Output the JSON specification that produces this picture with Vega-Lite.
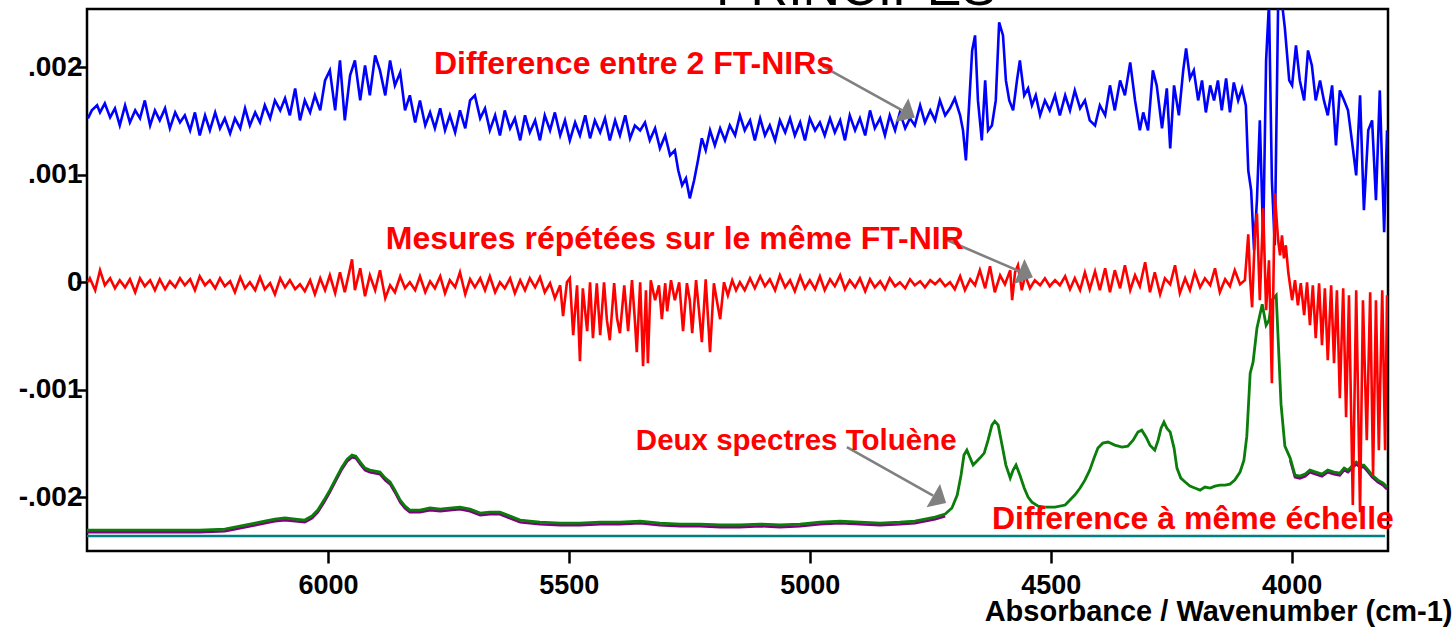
{
"$schema": "https://vega.github.io/schema/vega-lite/v6.json",
"width": 1301, "height": 542,
"autosize": {"type": "none"},
"padding": {"left": 87, "top": 9, "right": 68, "bottom": 77},
"background": "white",
"config": {"view": {"stroke": "black", "strokeWidth": 2.5}, "font": "Liberation Sans"},
"datasets": {
"blue": [{"wn":6498,"v":0.001526},{"wn":6490,"v":0.0016},{"wn":6479,"v":0.001647},{"wn":6473,"v":0.001581},{"wn":6463,"v":0.001665},{"wn":6452,"v":0.001535},{"wn":6442,"v":0.001619},{"wn":6432,"v":0.00146},{"wn":6421,"v":0.001647},{"wn":6411,"v":0.001488},{"wn":6400,"v":0.0016},{"wn":6390,"v":0.001526},{"wn":6380,"v":0.001693},{"wn":6369,"v":0.00146},{"wn":6359,"v":0.0016},{"wn":6349,"v":0.001507},{"wn":6338,"v":0.001619},{"wn":6328,"v":0.001433},{"wn":6317,"v":0.001581},{"wn":6307,"v":0.001488},{"wn":6297,"v":0.001554},{"wn":6286,"v":0.001414},{"wn":6276,"v":0.001581},{"wn":6266,"v":0.001367},{"wn":6255,"v":0.001554},{"wn":6245,"v":0.001414},{"wn":6234,"v":0.001581},{"wn":6224,"v":0.001433},{"wn":6214,"v":0.001526},{"wn":6203,"v":0.001386},{"wn":6193,"v":0.001526},{"wn":6182,"v":0.001433},{"wn":6172,"v":0.001619},{"wn":6162,"v":0.00146},{"wn":6151,"v":0.001581},{"wn":6141,"v":0.001488},{"wn":6131,"v":0.001647},{"wn":6120,"v":0.001526},{"wn":6110,"v":0.001693},{"wn":6099,"v":0.0016},{"wn":6089,"v":0.001712},{"wn":6079,"v":0.001554},{"wn":6068,"v":0.001805},{"wn":6058,"v":0.001507},{"wn":6048,"v":0.001693},{"wn":6037,"v":0.001581},{"wn":6027,"v":0.00174},{"wn":6016,"v":0.0016},{"wn":6006,"v":0.001879},{"wn":5996,"v":0.001972},{"wn":5985,"v":0.0016},{"wn":5975,"v":0.002065},{"wn":5965,"v":0.001507},{"wn":5954,"v":0.001926},{"wn":5944,"v":0.002065},{"wn":5933,"v":0.001693},{"wn":5923,"v":0.002019},{"wn":5913,"v":0.00174},{"wn":5902,"v":0.002112},{"wn":5892,"v":0.001972},{"wn":5881,"v":0.00174},{"wn":5871,"v":0.002065},{"wn":5861,"v":0.001833},{"wn":5850,"v":0.001953},{"wn":5840,"v":0.0016},{"wn":5830,"v":0.00174},{"wn":5819,"v":0.001488},{"wn":5809,"v":0.001693},{"wn":5798,"v":0.00146},{"wn":5788,"v":0.001581},{"wn":5778,"v":0.001433},{"wn":5767,"v":0.001619},{"wn":5757,"v":0.001414},{"wn":5747,"v":0.001554},{"wn":5736,"v":0.001395},{"wn":5726,"v":0.0016},{"wn":5715,"v":0.001433},{"wn":5705,"v":0.001693},{"wn":5695,"v":0.00174},{"wn":5684,"v":0.001526},{"wn":5674,"v":0.001619},{"wn":5664,"v":0.001414},{"wn":5653,"v":0.001554},{"wn":5643,"v":0.001367},{"wn":5633,"v":0.0016},{"wn":5622,"v":0.001433},{"wn":5612,"v":0.001526},{"wn":5601,"v":0.001321},{"wn":5591,"v":0.001554},{"wn":5581,"v":0.001395},{"wn":5570,"v":0.001507},{"wn":5560,"v":0.001321},{"wn":5550,"v":0.001554},{"wn":5539,"v":0.001414},{"wn":5529,"v":0.001581},{"wn":5518,"v":0.001367},{"wn":5508,"v":0.001507},{"wn":5498,"v":0.001321},{"wn":5487,"v":0.001488},{"wn":5477,"v":0.001367},{"wn":5466,"v":0.001554},{"wn":5456,"v":0.00134},{"wn":5446,"v":0.001507},{"wn":5435,"v":0.001395},{"wn":5425,"v":0.001526},{"wn":5415,"v":0.001321},{"wn":5404,"v":0.001507},{"wn":5394,"v":0.001367},{"wn":5383,"v":0.001554},{"wn":5373,"v":0.00134},{"wn":5363,"v":0.00146},{"wn":5352,"v":0.001414},{"wn":5342,"v":0.001488},{"wn":5332,"v":0.001321},{"wn":5321,"v":0.001433},{"wn":5311,"v":0.001247},{"wn":5300,"v":0.001367},{"wn":5290,"v":0.001181},{"wn":5280,"v":0.001228},{"wn":5273,"v":0.001042},{"wn":5265,"v":0.000902},{"wn":5257,"v":0.000967},{"wn":5249,"v":0.000781},{"wn":5240,"v":0.000949},{"wn":5232,"v":0.001135},{"wn":5224,"v":0.00134},{"wn":5216,"v":0.001228},{"wn":5207,"v":0.001414},{"wn":5197,"v":0.001274},{"wn":5186,"v":0.001433},{"wn":5176,"v":0.001321},{"wn":5166,"v":0.00146},{"wn":5155,"v":0.001367},{"wn":5145,"v":0.001554},{"wn":5135,"v":0.001414},{"wn":5124,"v":0.001507},{"wn":5114,"v":0.001321},{"wn":5103,"v":0.001526},{"wn":5093,"v":0.001367},{"wn":5083,"v":0.00146},{"wn":5072,"v":0.001321},{"wn":5062,"v":0.001507},{"wn":5051,"v":0.001395},{"wn":5041,"v":0.001526},{"wn":5031,"v":0.001367},{"wn":5020,"v":0.001488},{"wn":5010,"v":0.001321},{"wn":5000,"v":0.001526},{"wn":4989,"v":0.001414},{"wn":4979,"v":0.001488},{"wn":4969,"v":0.001367},{"wn":4958,"v":0.001526},{"wn":4948,"v":0.001395},{"wn":4937,"v":0.001507},{"wn":4927,"v":0.001321},{"wn":4917,"v":0.001554},{"wn":4906,"v":0.001414},{"wn":4896,"v":0.001526},{"wn":4885,"v":0.001367},{"wn":4875,"v":0.0016},{"wn":4865,"v":0.001433},{"wn":4854,"v":0.001526},{"wn":4844,"v":0.001367},{"wn":4834,"v":0.001554},{"wn":4823,"v":0.001414},{"wn":4813,"v":0.001581},{"wn":4802,"v":0.001433},{"wn":4792,"v":0.001526},{"wn":4782,"v":0.00146},{"wn":4771,"v":0.001647},{"wn":4761,"v":0.001488},{"wn":4750,"v":0.0016},{"wn":4740,"v":0.001507},{"wn":4730,"v":0.001693},{"wn":4719,"v":0.001554},{"wn":4709,"v":0.001619},{"wn":4699,"v":0.001712},{"wn":4688,"v":0.001554},{"wn":4682,"v":0.001414},{"wn":4676,"v":0.001135},{"wn":4670,"v":0.0016},{"wn":4663,"v":0.002158},{"wn":4657,"v":0.002298},{"wn":4651,"v":0.001693},{"wn":4643,"v":0.001321},{"wn":4636,"v":0.001879},{"wn":4630,"v":0.001414},{"wn":4622,"v":0.00146},{"wn":4614,"v":0.001693},{"wn":4607,"v":0.002419},{"wn":4599,"v":0.002298},{"wn":4593,"v":0.001879},{"wn":4586,"v":0.001693},{"wn":4578,"v":0.0016},{"wn":4570,"v":0.001879},{"wn":4564,"v":0.002065},{"wn":4555,"v":0.00174},{"wn":4547,"v":0.001805},{"wn":4539,"v":0.001647},{"wn":4531,"v":0.00174},{"wn":4522,"v":0.001554},{"wn":4512,"v":0.001693},{"wn":4502,"v":0.0016},{"wn":4491,"v":0.00174},{"wn":4481,"v":0.001554},{"wn":4470,"v":0.00174},{"wn":4460,"v":0.0016},{"wn":4450,"v":0.001786},{"wn":4439,"v":0.001619},{"wn":4429,"v":0.001693},{"wn":4419,"v":0.001507},{"wn":4408,"v":0.00146},{"wn":4398,"v":0.001647},{"wn":4387,"v":0.001554},{"wn":4377,"v":0.001833},{"wn":4367,"v":0.0016},{"wn":4356,"v":0.001879},{"wn":4346,"v":0.00174},{"wn":4335,"v":0.002047},{"wn":4325,"v":0.001693},{"wn":4315,"v":0.001414},{"wn":4308,"v":0.001581},{"wn":4298,"v":0.001414},{"wn":4288,"v":0.001972},{"wn":4280,"v":0.001833},{"wn":4269,"v":0.001433},{"wn":4259,"v":0.001805},{"wn":4252,"v":0.001247},{"wn":4244,"v":0.001833},{"wn":4234,"v":0.001554},{"wn":4225,"v":0.001972},{"wn":4219,"v":0.002177},{"wn":4211,"v":0.001898},{"wn":4203,"v":0.001972},{"wn":4194,"v":0.001693},{"wn":4186,"v":0.001879},{"wn":4178,"v":0.001581},{"wn":4169,"v":0.001833},{"wn":4161,"v":0.001693},{"wn":4153,"v":0.001879},{"wn":4145,"v":0.0016},{"wn":4136,"v":0.001898},{"wn":4128,"v":0.001581},{"wn":4120,"v":0.00186},{"wn":4111,"v":0.001693},{"wn":4103,"v":0.001805},{"wn":4095,"v":0.001647},{"wn":4090,"v":0.001042},{"wn":4084,"v":0.000856},{"wn":4078,"v":0.000298},{"wn":4072,"v":0.000763},{"wn":4066,"v":0.001507},{"wn":4059,"v":0.000391},{"wn":4053,"v":0.002065},{"wn":4047,"v":0.0026},{"wn":4041,"v":0.000949},{"wn":4035,"v":0.000344},{"wn":4028,"v":0.0026},{"wn":4020,"v":0.0026},{"wn":4014,"v":0.002363},{"wn":4005,"v":0.001879},{"wn":3999,"v":0.001833},{"wn":3991,"v":0.002205},{"wn":3983,"v":0.001879},{"wn":3974,"v":0.001693},{"wn":3966,"v":0.002158},{"wn":3958,"v":0.002019},{"wn":3950,"v":0.001693},{"wn":3941,"v":0.001879},{"wn":3933,"v":0.001693},{"wn":3925,"v":0.001554},{"wn":3916,"v":0.001833},{"wn":3908,"v":0.001274},{"wn":3900,"v":0.001786},{"wn":3891,"v":0.001693},{"wn":3883,"v":0.0016},{"wn":3875,"v":0.001321},{"wn":3866,"v":0.000995},{"wn":3858,"v":0.00174},{"wn":3850,"v":0.00067},{"wn":3841,"v":0.001414},{"wn":3833,"v":0.001507},{"wn":3825,"v":0.000763},{"wn":3817,"v":0.001786},{"wn":3808,"v":0.000465},{"wn":3802,"v":0.001414}],
"red": [{"wn":6498,"v":0},{"wn":6494,"v":0.000037},{"wn":6483,"v":-0.000074},{"wn":6473,"v":0.000112},{"wn":6463,"v":-0.000028},{"wn":6452,"v":0.000037},{"wn":6442,"v":-0.000056},{"wn":6432,"v":0.000019},{"wn":6421,"v":-0.000047},{"wn":6411,"v":0.000028},{"wn":6400,"v":-0.000093},{"wn":6390,"v":0.000037},{"wn":6380,"v":-0.000037},{"wn":6369,"v":0.000019},{"wn":6359,"v":-0.000074},{"wn":6349,"v":0.000028},{"wn":6338,"v":-0.000065},{"wn":6328,"v":0.000009},{"wn":6317,"v":-0.000047},{"wn":6307,"v":0.000037},{"wn":6297,"v":-0.000028},{"wn":6286,"v":0.000028},{"wn":6276,"v":-0.000074},{"wn":6266,"v":0.000056},{"wn":6255,"v":-0.000028},{"wn":6245,"v":0.000019},{"wn":6234,"v":-0.000056},{"wn":6224,"v":0.000037},{"wn":6214,"v":-0.000037},{"wn":6203,"v":0.000009},{"wn":6193,"v":-0.000093},{"wn":6182,"v":0.000047},{"wn":6172,"v":-0.000056},{"wn":6162,"v":0},{"wn":6151,"v":-0.000074},{"wn":6141,"v":0.000047},{"wn":6131,"v":-0.000065},{"wn":6120,"v":-0.000009},{"wn":6110,"v":-0.000112},{"wn":6099,"v":0.000037},{"wn":6089,"v":-0.000047},{"wn":6079,"v":0.000019},{"wn":6068,"v":-0.000065},{"wn":6058,"v":-0.000019},{"wn":6048,"v":-0.000084},{"wn":6037,"v":0.000019},{"wn":6027,"v":-0.000112},{"wn":6016,"v":0.000037},{"wn":6006,"v":-0.000074},{"wn":5996,"v":0.000065},{"wn":5985,"v":-0.000102},{"wn":5975,"v":0.000093},{"wn":5965,"v":-0.000093},{"wn":5954,"v":0.00013},{"wn":5950,"v":0.000214},{"wn":5944,"v":-0.000074},{"wn":5933,"v":0.00013},{"wn":5923,"v":-0.00013},{"wn":5913,"v":0.000065},{"wn":5902,"v":-0.000074},{"wn":5892,"v":0.000112},{"wn":5881,"v":-0.000149},{"wn":5871,"v":-0.000028},{"wn":5861,"v":-0.000093},{"wn":5850,"v":0.000056},{"wn":5840,"v":-0.000056},{"wn":5830,"v":0},{"wn":5819,"v":-0.000074},{"wn":5809,"v":0.000056},{"wn":5798,"v":-0.000093},{"wn":5788,"v":0.000009},{"wn":5778,"v":-0.000056},{"wn":5767,"v":0.000056},{"wn":5757,"v":-0.000102},{"wn":5747,"v":0.000019},{"wn":5736,"v":-0.000047},{"wn":5726,"v":0.000093},{"wn":5715,"v":-0.000112},{"wn":5705,"v":0.000028},{"wn":5695,"v":-0.000047},{"wn":5684,"v":0.000037},{"wn":5674,"v":-0.000074},{"wn":5664,"v":0.000056},{"wn":5653,"v":-0.000093},{"wn":5643,"v":0},{"wn":5633,"v":-0.000056},{"wn":5622,"v":0.000037},{"wn":5612,"v":-0.000102},{"wn":5601,"v":0.000019},{"wn":5591,"v":-0.000074},{"wn":5581,"v":0.000037},{"wn":5570,"v":-0.000047},{"wn":5560,"v":0.000047},{"wn":5550,"v":-0.000093},{"wn":5539,"v":-0.000009},{"wn":5529,"v":-0.000149},{"wn":5518,"v":-0.000028},{"wn":5512,"v":-0.000316},{"wn":5504,"v":0},{"wn":5498,"v":0.000037},{"wn":5491,"v":-0.000493},{"wn":5483,"v":-0.000028},{"wn":5477,"v":-0.000735},{"wn":5471,"v":-0.000056},{"wn":5462,"v":-0.000456},{"wn":5456,"v":0},{"wn":5450,"v":-0.000521},{"wn":5442,"v":-0.000009},{"wn":5435,"v":-0.000493},{"wn":5427,"v":0},{"wn":5421,"v":-0.000353},{"wn":5415,"v":-0.00054},{"wn":5406,"v":-0.000009},{"wn":5400,"v":-0.000335},{"wn":5394,"v":-0.000474},{"wn":5385,"v":-0.000028},{"wn":5377,"v":-0.000456},{"wn":5369,"v":0.000019},{"wn":5363,"v":-0.000353},{"wn":5359,"v":-0.000651},{"wn":5352,"v":0},{"wn":5346,"v":-0.000781},{"wn":5340,"v":-0.000074},{"wn":5336,"v":-0.000753},{"wn":5330,"v":0.000019},{"wn":5321,"v":-0.000167},{"wn":5313,"v":-0.000028},{"wn":5307,"v":-0.000344},{"wn":5300,"v":-0.000009},{"wn":5296,"v":-0.00027},{"wn":5288,"v":0.000019},{"wn":5280,"v":-0.000167},{"wn":5271,"v":0},{"wn":5263,"v":-0.000456},{"wn":5255,"v":-0.000009},{"wn":5249,"v":-0.000167},{"wn":5244,"v":-0.000474},{"wn":5236,"v":0.000019},{"wn":5230,"v":-0.00026},{"wn":5224,"v":-0.000558},{"wn":5216,"v":0.000028},{"wn":5207,"v":-0.000651},{"wn":5199,"v":-0.000009},{"wn":5193,"v":-0.000167},{"wn":5186,"v":-0.000344},{"wn":5178,"v":0},{"wn":5170,"v":-0.000121},{"wn":5161,"v":0.000019},{"wn":5153,"v":-0.000074},{"wn":5145,"v":0},{"wn":5135,"v":-0.000074},{"wn":5124,"v":0.000037},{"wn":5114,"v":-0.000056},{"wn":5103,"v":0.000056},{"wn":5093,"v":-0.000037},{"wn":5083,"v":0.000028},{"wn":5072,"v":-0.000074},{"wn":5062,"v":0.000065},{"wn":5051,"v":-0.000047},{"wn":5041,"v":0.000019},{"wn":5031,"v":-0.000084},{"wn":5020,"v":0.000056},{"wn":5010,"v":-0.000056},{"wn":5000,"v":0.000019},{"wn":4989,"v":-0.000065},{"wn":4979,"v":0.000056},{"wn":4969,"v":-0.000074},{"wn":4958,"v":0.000028},{"wn":4948,"v":-0.000037},{"wn":4937,"v":0.000065},{"wn":4927,"v":-0.000065},{"wn":4917,"v":0.000019},{"wn":4906,"v":-0.000047},{"wn":4896,"v":0.000037},{"wn":4885,"v":-0.000084},{"wn":4875,"v":0.000028},{"wn":4865,"v":-0.000047},{"wn":4854,"v":0.000009},{"wn":4844,"v":-0.000065},{"wn":4834,"v":0.000037},{"wn":4823,"v":-0.000037},{"wn":4813,"v":0},{"wn":4802,"v":-0.000056},{"wn":4792,"v":0.000028},{"wn":4782,"v":-0.000028},{"wn":4771,"v":0.000009},{"wn":4761,"v":-0.000047},{"wn":4750,"v":0.000019},{"wn":4740,"v":-0.000019},{"wn":4730,"v":0.000028},{"wn":4719,"v":-0.000037},{"wn":4709,"v":0},{"wn":4699,"v":-0.000065},{"wn":4688,"v":0.000056},{"wn":4678,"v":-0.000074},{"wn":4667,"v":0.000028},{"wn":4657,"v":-0.000028},{"wn":4647,"v":0.000112},{"wn":4636,"v":-0.000056},{"wn":4626,"v":0.000149},{"wn":4616,"v":-0.000093},{"wn":4605,"v":0.000065},{"wn":4595,"v":-0.000019},{"wn":4584,"v":0.000112},{"wn":4580,"v":-0.000167},{"wn":4574,"v":0.000093},{"wn":4568,"v":0.000158},{"wn":4560,"v":-0.000074},{"wn":4553,"v":0.000065},{"wn":4543,"v":-0.000056},{"wn":4533,"v":0.000019},{"wn":4522,"v":-0.000028},{"wn":4512,"v":0.000037},{"wn":4502,"v":-0.000037},{"wn":4491,"v":0.000019},{"wn":4481,"v":-0.000028},{"wn":4470,"v":0.000056},{"wn":4460,"v":-0.000065},{"wn":4450,"v":0.000037},{"wn":4439,"v":-0.000074},{"wn":4429,"v":0.000093},{"wn":4419,"v":-0.000065},{"wn":4408,"v":0.000102},{"wn":4398,"v":-0.000074},{"wn":4387,"v":0.00013},{"wn":4377,"v":-0.000093},{"wn":4367,"v":0.000112},{"wn":4356,"v":-0.000056},{"wn":4346,"v":0.000158},{"wn":4335,"v":-0.000074},{"wn":4325,"v":0.000065},{"wn":4315,"v":-0.000037},{"wn":4304,"v":0.000186},{"wn":4294,"v":-0.000093},{"wn":4284,"v":0.000093},{"wn":4273,"v":-0.000112},{"wn":4263,"v":0.000037},{"wn":4252,"v":-0.000019},{"wn":4242,"v":0.000158},{"wn":4232,"v":-0.000102},{"wn":4221,"v":0.000037},{"wn":4211,"v":-0.000074},{"wn":4201,"v":0.000093},{"wn":4190,"v":-0.000047},{"wn":4180,"v":0.000037},{"wn":4169,"v":-0.000028},{"wn":4159,"v":0.00013},{"wn":4149,"v":-0.000093},{"wn":4138,"v":0.000028},{"wn":4128,"v":-0.000037},{"wn":4118,"v":0.000112},{"wn":4107,"v":-0.000019},{"wn":4097,"v":0.000019},{"wn":4090,"v":0.000447},{"wn":4086,"v":0.000019},{"wn":4082,"v":-0.000233},{"wn":4076,"v":0.000484},{"wn":4072,"v":0.000642},{"wn":4066,"v":-0.000167},{"wn":4059,"v":0.000688},{"wn":4053,"v":-0.00026},{"wn":4047,"v":0.000205},{"wn":4041,"v":-0.00094},{"wn":4035,"v":0.000828},{"wn":4028,"v":0.000391},{"wn":4024,"v":0.000251},{"wn":4020,"v":0.000437},{"wn":4016,"v":0.000223},{"wn":4012,"v":0.000344},{"wn":4007,"v":0.000093},{"wn":3999,"v":-0.000167},{"wn":3993,"v":0.000019},{"wn":3987,"v":-0.000214},{"wn":3981,"v":-0.000009},{"wn":3974,"v":-0.000307},{"wn":3968,"v":0},{"wn":3962,"v":-0.0004},{"wn":3956,"v":-0.000028},{"wn":3950,"v":-0.000521},{"wn":3943,"v":-0.000009},{"wn":3937,"v":-0.000586},{"wn":3931,"v":-0.000056},{"wn":3925,"v":-0.000726},{"wn":3918,"v":-0.000028},{"wn":3912,"v":-0.000753},{"wn":3906,"v":-0.000074},{"wn":3900,"v":-0.001079},{"wn":3893,"v":-0.000056},{"wn":3887,"v":-0.001256},{"wn":3881,"v":-0.000121},{"wn":3873,"v":-0.002074},{"wn":3866,"v":-0.000074},{"wn":3858,"v":-0.00214},{"wn":3852,"v":-0.000167},{"wn":3844,"v":-0.00147},{"wn":3837,"v":-0.000093},{"wn":3831,"v":-0.001795},{"wn":3825,"v":-0.000167},{"wn":3819,"v":-0.001563},{"wn":3812,"v":-0.000074},{"wn":3806,"v":-0.001563},{"wn":3802,"v":-0.000121}],
"green": [{"wn":6500,"v":-0.002307},{"wn":6369,"v":-0.002307},{"wn":6266,"v":-0.002307},{"wn":6214,"v":-0.002298},{"wn":6193,"v":-0.002279},{"wn":6172,"v":-0.00226},{"wn":6151,"v":-0.002242},{"wn":6131,"v":-0.002223},{"wn":6110,"v":-0.002205},{"wn":6089,"v":-0.002195},{"wn":6068,"v":-0.002205},{"wn":6048,"v":-0.002214},{"wn":6033,"v":-0.002177},{"wn":6021,"v":-0.002121},{"wn":6008,"v":-0.002028},{"wn":5996,"v":-0.001935},{"wn":5983,"v":-0.001823},{"wn":5971,"v":-0.001721},{"wn":5960,"v":-0.001647},{"wn":5950,"v":-0.001609},{"wn":5942,"v":-0.001619},{"wn":5933,"v":-0.001674},{"wn":5923,"v":-0.00173},{"wn":5913,"v":-0.001749},{"wn":5902,"v":-0.001758},{"wn":5892,"v":-0.001767},{"wn":5881,"v":-0.001823},{"wn":5871,"v":-0.00186},{"wn":5861,"v":-0.001935},{"wn":5850,"v":-0.002028},{"wn":5840,"v":-0.002084},{"wn":5830,"v":-0.002121},{"wn":5809,"v":-0.002121},{"wn":5788,"v":-0.002102},{"wn":5767,"v":-0.002112},{"wn":5747,"v":-0.002102},{"wn":5726,"v":-0.002093},{"wn":5705,"v":-0.002112},{"wn":5684,"v":-0.002149},{"wn":5664,"v":-0.00214},{"wn":5643,"v":-0.00214},{"wn":5622,"v":-0.002177},{"wn":5601,"v":-0.002214},{"wn":5581,"v":-0.002223},{"wn":5560,"v":-0.002233},{"wn":5518,"v":-0.002242},{"wn":5477,"v":-0.002242},{"wn":5435,"v":-0.002233},{"wn":5394,"v":-0.002233},{"wn":5352,"v":-0.002223},{"wn":5311,"v":-0.002242},{"wn":5269,"v":-0.002251},{"wn":5228,"v":-0.002251},{"wn":5186,"v":-0.00226},{"wn":5145,"v":-0.00226},{"wn":5103,"v":-0.002251},{"wn":5062,"v":-0.00226},{"wn":5020,"v":-0.002251},{"wn":4979,"v":-0.002233},{"wn":4937,"v":-0.002223},{"wn":4896,"v":-0.002233},{"wn":4854,"v":-0.002242},{"wn":4813,"v":-0.002233},{"wn":4782,"v":-0.002223},{"wn":4761,"v":-0.002205},{"wn":4740,"v":-0.002186},{"wn":4719,"v":-0.002158},{"wn":4705,"v":-0.002102},{"wn":4694,"v":-0.001981},{"wn":4686,"v":-0.001795},{"wn":4680,"v":-0.001609},{"wn":4674,"v":-0.001563},{"wn":4667,"v":-0.001637},{"wn":4661,"v":-0.001702},{"wn":4655,"v":-0.001674},{"wn":4647,"v":-0.001637},{"wn":4638,"v":-0.001591},{"wn":4630,"v":-0.00147},{"wn":4622,"v":-0.00133},{"wn":4616,"v":-0.001293},{"wn":4609,"v":-0.00133},{"wn":4601,"v":-0.001516},{"wn":4593,"v":-0.001702},{"wn":4584,"v":-0.001823},{"wn":4578,"v":-0.001749},{"wn":4572,"v":-0.001702},{"wn":4564,"v":-0.001795},{"wn":4555,"v":-0.001916},{"wn":4547,"v":-0.002},{"wn":4539,"v":-0.002047},{"wn":4526,"v":-0.002084},{"wn":4512,"v":-0.002093},{"wn":4491,"v":-0.002093},{"wn":4470,"v":-0.002074},{"wn":4460,"v":-0.002028},{"wn":4450,"v":-0.001981},{"wn":4439,"v":-0.001916},{"wn":4429,"v":-0.001842},{"wn":4419,"v":-0.001749},{"wn":4410,"v":-0.001637},{"wn":4402,"v":-0.001544},{"wn":4392,"v":-0.001498},{"wn":4381,"v":-0.001488},{"wn":4367,"v":-0.001516},{"wn":4352,"v":-0.001535},{"wn":4340,"v":-0.001526},{"wn":4329,"v":-0.00147},{"wn":4319,"v":-0.001395},{"wn":4311,"v":-0.001377},{"wn":4302,"v":-0.001442},{"wn":4294,"v":-0.001516},{"wn":4284,"v":-0.001563},{"wn":4277,"v":-0.00147},{"wn":4271,"v":-0.001358},{"wn":4265,"v":-0.001302},{"wn":4259,"v":-0.001358},{"wn":4252,"v":-0.001395},{"wn":4244,"v":-0.001544},{"wn":4238,"v":-0.00173},{"wn":4230,"v":-0.001823},{"wn":4221,"v":-0.00186},{"wn":4211,"v":-0.001898},{"wn":4201,"v":-0.001916},{"wn":4190,"v":-0.001935},{"wn":4180,"v":-0.001907},{"wn":4169,"v":-0.001916},{"wn":4159,"v":-0.001898},{"wn":4149,"v":-0.001888},{"wn":4138,"v":-0.001888},{"wn":4128,"v":-0.001879},{"wn":4118,"v":-0.001842},{"wn":4107,"v":-0.001767},{"wn":4099,"v":-0.001656},{"wn":4093,"v":-0.001433},{"wn":4086,"v":-0.000847},{"wn":4080,"v":-0.000744},{"wn":4072,"v":-0.000428},{"wn":4061,"v":-0.000205},{"wn":4053,"v":-0.0004},{"wn":4047,"v":-0.000353},{"wn":4041,"v":-0.000167},{"wn":4032,"v":-0.000121},{"wn":4026,"v":-0.000726},{"wn":4022,"v":-0.001135},{"wn":4014,"v":-0.001526},{"wn":4003,"v":-0.001637},{"wn":3993,"v":-0.001795},{"wn":3983,"v":-0.001805},{"wn":3972,"v":-0.001786},{"wn":3962,"v":-0.001749},{"wn":3950,"v":-0.001767},{"wn":3937,"v":-0.001786},{"wn":3925,"v":-0.001749},{"wn":3912,"v":-0.001767},{"wn":3900,"v":-0.001777},{"wn":3891,"v":-0.00173},{"wn":3883,"v":-0.001749},{"wn":3875,"v":-0.001712},{"wn":3866,"v":-0.001674},{"wn":3858,"v":-0.001702},{"wn":3850,"v":-0.001702},{"wn":3841,"v":-0.001749},{"wn":3833,"v":-0.001795},{"wn":3821,"v":-0.001842},{"wn":3810,"v":-0.00187},{"wn":3802,"v":-0.001907}],
"purple": [{"seg":1,"wn":6500,"v":-0.002327},{"seg":1,"wn":6301,"v":-0.002327},{"seg":1,"wn":6266,"v":-0.002327},{"seg":1,"wn":6214,"v":-0.002318},{"seg":1,"wn":6193,"v":-0.002299},{"seg":1,"wn":6172,"v":-0.00228},{"seg":1,"wn":6151,"v":-0.002262},{"seg":1,"wn":6131,"v":-0.002243},{"seg":1,"wn":6110,"v":-0.002225},{"seg":1,"wn":6089,"v":-0.002215},{"seg":1,"wn":6068,"v":-0.002225},{"seg":1,"wn":6048,"v":-0.002234},{"seg":1,"wn":6033,"v":-0.002197},{"seg":1,"wn":6021,"v":-0.002141},{"seg":1,"wn":6008,"v":-0.002048},{"seg":1,"wn":5996,"v":-0.001955},{"seg":1,"wn":5983,"v":-0.001843},{"seg":1,"wn":5971,"v":-0.001741},{"seg":1,"wn":5960,"v":-0.001667},{"seg":1,"wn":5950,"v":-0.001629},{"seg":1,"wn":5942,"v":-0.001639},{"seg":1,"wn":5933,"v":-0.001694},{"seg":1,"wn":5923,"v":-0.00175},{"seg":1,"wn":5913,"v":-0.001769},{"seg":1,"wn":5902,"v":-0.001778},{"seg":1,"wn":5892,"v":-0.001787},{"seg":1,"wn":5881,"v":-0.001843},{"seg":1,"wn":5871,"v":-0.00188},{"seg":1,"wn":5861,"v":-0.001955},{"seg":1,"wn":5850,"v":-0.002048},{"seg":1,"wn":5840,"v":-0.002104},{"seg":1,"wn":5830,"v":-0.002141},{"seg":1,"wn":5809,"v":-0.002141},{"seg":1,"wn":5788,"v":-0.002122},{"seg":1,"wn":5767,"v":-0.002132},{"seg":1,"wn":5747,"v":-0.002122},{"seg":1,"wn":5726,"v":-0.002113},{"seg":1,"wn":5705,"v":-0.002132},{"seg":1,"wn":5684,"v":-0.002169},{"seg":1,"wn":5664,"v":-0.00216},{"seg":1,"wn":5643,"v":-0.00216},{"seg":1,"wn":5622,"v":-0.002197},{"seg":1,"wn":5601,"v":-0.002234},{"seg":1,"wn":5581,"v":-0.002243},{"seg":1,"wn":5560,"v":-0.002253},{"seg":1,"wn":5518,"v":-0.002262},{"seg":1,"wn":5477,"v":-0.002262},{"seg":1,"wn":5435,"v":-0.002253},{"seg":1,"wn":5394,"v":-0.002253},{"seg":1,"wn":5352,"v":-0.002243},{"seg":1,"wn":5311,"v":-0.002262},{"seg":1,"wn":5269,"v":-0.002271},{"seg":1,"wn":5228,"v":-0.002271},{"seg":1,"wn":5186,"v":-0.00228},{"seg":1,"wn":5145,"v":-0.00228},{"seg":1,"wn":5103,"v":-0.002271},{"seg":1,"wn":5062,"v":-0.00228},{"seg":1,"wn":5020,"v":-0.002271},{"seg":1,"wn":4979,"v":-0.002253},{"seg":1,"wn":4937,"v":-0.002243},{"seg":1,"wn":4896,"v":-0.002253},{"seg":1,"wn":4854,"v":-0.002262},{"seg":1,"wn":4813,"v":-0.002253},{"seg":1,"wn":4782,"v":-0.002243},{"seg":1,"wn":4761,"v":-0.002225},{"seg":1,"wn":4740,"v":-0.002206},{"seg":1,"wn":4719,"v":-0.002178},{"seg":2,"wn":4003,"v":-0.001657},{"seg":2,"wn":3993,"v":-0.001815},{"seg":2,"wn":3983,"v":-0.001825},{"seg":2,"wn":3972,"v":-0.001806},{"seg":2,"wn":3962,"v":-0.001769},{"seg":2,"wn":3950,"v":-0.001787},{"seg":2,"wn":3937,"v":-0.001806},{"seg":2,"wn":3925,"v":-0.001769},{"seg":2,"wn":3912,"v":-0.001787},{"seg":2,"wn":3900,"v":-0.001797},{"seg":2,"wn":3891,"v":-0.00175},{"seg":2,"wn":3883,"v":-0.001769},{"seg":2,"wn":3875,"v":-0.001732},{"seg":2,"wn":3866,"v":-0.001694},{"seg":2,"wn":3858,"v":-0.001722},{"seg":2,"wn":3850,"v":-0.001722},{"seg":2,"wn":3841,"v":-0.001769},{"seg":2,"wn":3833,"v":-0.001815},{"seg":2,"wn":3821,"v":-0.001862},{"seg":2,"wn":3810,"v":-0.00189},{"seg":2,"wn":3802,"v":-0.001927}],
"teal": [{"wn":6500,"v":-0.002363},{"wn":3806,"v":-0.002363}],
"notes": [{"id":"n1","label":"Difference entre 2 FT-NIRs","wn":5780,"v":0.001935},{"id":"n2","label":"Mesures répétées sur le même FT-NIR","wn":5880,"v":0.000307},{"id":"n3","label":"Deux spectres Toluène","wn":5361,"v":-0.001563},{"id":"n4","label":"Difference à même échelle","wn":4622,"v":-0.002298}],
"heading": [{"label":"PRINCIPES","wn":4904,"v":0.002577}],
"arrows": [{"id":"a1","wn":4973,"v":0.002009,"wn2":4809,"v2":0.001603},{"id":"a2","wn":4719,"v":0.0004,"wn2":4565,"v2":0.000102},{"id":"a3","wn":4923,"v":-0.001535,"wn2":4744,"v2":-0.001987}],
"heads": [{"id":"a1","wn":4782,"v":0.001535},{"id":"a2","wn":4537,"v":0.0000465},{"id":"a3","wn":4717,"v":-0.002056}]
},
"encoding": {
"x": {"field":"wn","type":"quantitative","scale":{"domain":[3800,6500],"reverse":true,"nice":false,"zero":false},
"axis":{"values":[6000,5500,5000,4500,4000],"format":"d","grid":false,"domain":false,"ticks":true,"tickSize":12,"tickWidth":2.5,"tickColor":"black","labelFont":"Liberation Sans","labelFontWeight":"bold","labelFontSize":27,"labelColor":"black","labelPadding":9,"labelFlush":false,"title":"Absorbance / Wavenumber (cm-1)","titleFont":"Liberation Sans","titleFontWeight":"bold","titleFontSize":29,"titleColor":"black","titleX":1365,"titleY":69,"titleAlign":"right","titleBaseline":"alphabetic","titleAnchor":null}},
"y": {"field":"v","type":"quantitative","scale":{"domain":[-0.002502,0.002544],"nice":false,"zero":false},
"axis":{"values":[-0.002,-0.001,0,0.001,0.002],"labelExpr":"datum.value == 0 ? '0' : (datum.value < 0 ? '-.00' : '.00') + round(abs(datum.value) * 1000)","grid":false,"domain":false,"tickSize":10,"tickWidth":2.5,"tickColor":"black","labelFont":"Liberation Sans","labelFontWeight":"bold","labelFontSize":28,"labelColor":"black","labelPadding":-5,"labelBaseline":"middle","labelFlush":false,"title":null}}
},
"layer": [
{"data":{"name":"teal"},"mark":{"type":"line","color":"#008080","strokeWidth":2.5,"clip":true},"encoding":{}},
{"data":{"name":"purple"},"mark":{"type":"line","color":"#800080","strokeWidth":2.6,"clip":true},"encoding":{"detail":{"field":"seg"}}},
{"data":{"name":"green"},"mark":{"type":"line","color":"#0a7d0a","strokeWidth":2.8,"clip":true},"encoding":{}},
{"data":{"name":"blue"},"mark":{"type":"line","color":"#0000ff","strokeWidth":2.6,"clip":true},"encoding":{}},
{"data":{"name":"red"},"mark":{"type":"line","color":"#ff0000","strokeWidth":2.6,"clip":true},"encoding":{}},
{"data":{"name":"arrows"},"mark":{"type":"rule","color":"#808080","strokeWidth":2.6},"encoding":{"x2":{"field":"wn2"},"y2":{"field":"v2"}}},
{"data":{"name":"heads"},"transform":[{"filter":"datum.id == 'a1'"}],"mark":{"type":"point","shape":"M 0 0 L -1.1 -1 L -1.1 1 Z","filled":true,"color":"#808080","opacity":1,"size":729,"angle":29,"strokeWidth":0},"encoding":{}},
{"data":{"name":"heads"},"transform":[{"filter":"datum.id == 'a2'"}],"mark":{"type":"point","shape":"M 0 0 L -1.1 -1 L -1.1 1 Z","filled":true,"color":"#808080","opacity":1,"size":729,"angle":23,"strokeWidth":0},"encoding":{}},
{"data":{"name":"heads"},"transform":[{"filter":"datum.id == 'a3'"}],"mark":{"type":"point","shape":"M 0 0 L -1.1 -1 L -1.1 1 Z","filled":true,"color":"#808080","opacity":1,"size":729,"angle":30,"strokeWidth":0},"encoding":{}},
{"data":{"name":"notes"},"transform":[{"filter":"datum.id != 'n3'"}],"mark":{"type":"text","color":"#ff0000","font":"Liberation Sans","fontWeight":"bold","fontSize":32,"align":"left","baseline":"alphabetic"},"encoding":{"text":{"field":"label"}}},
{"data":{"name":"notes"},"transform":[{"filter":"datum.id == 'n3'"}],"mark":{"type":"text","color":"#ff0000","font":"Liberation Sans","fontWeight":"bold","fontSize":29.5,"align":"left","baseline":"alphabetic"},"encoding":{"text":{"field":"label"}}},
{"data":{"name":"heading"},"mark":{"type":"text","color":"black","font":"Liberation Sans","fontWeight":"normal","fontSize":52,"align":"center","baseline":"alphabetic"},"encoding":{"text":{"field":"label"}}}
]
}
